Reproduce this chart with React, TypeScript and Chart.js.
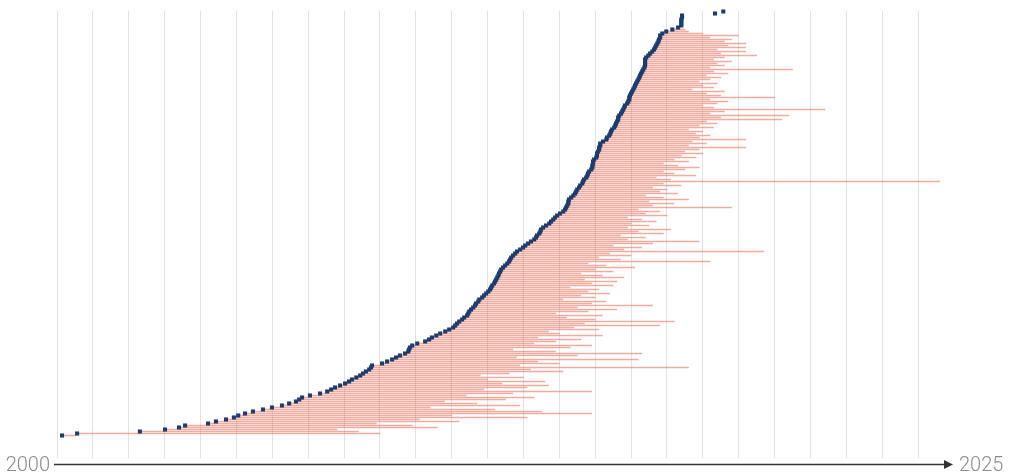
import React, { useEffect, useRef } from "react";
import { Chart, registerables } from "chart.js";

Chart.register(...registerables);

// Start year of each item (row 0 = bottom)
const startYears: number[] = [
  2000.14, 2000.56, 2002.31, 2003.01, 2003.40, 2003.57, 2004.21, 2004.43, 2004.71, 2004.93,
  2005.05, 2005.24, 2005.46, 2005.74, 2005.99, 2006.27, 2006.47, 2006.66, 2006.75, 2006.83,
  2007.05, 2007.33, 2007.53, 2007.64, 2007.75, 2007.89, 2008.03, 2008.14, 2008.22, 2008.34,
  2008.45, 2008.53, 2008.61, 2008.70, 2008.75, 2008.78, 2009.06, 2009.20, 2009.34, 2009.45,
  2009.56, 2009.70, 2009.79, 2009.81, 2009.84, 2009.90, 2010.04, 2010.26, 2010.37, 2010.45,
  2010.57, 2010.68, 2010.82, 2010.93, 2011.04, 2011.10, 2011.15, 2011.21, 2011.29, 2011.35,
  2011.43, 2011.46, 2011.49, 2011.54, 2011.60, 2011.65, 2011.68, 2011.74, 2011.77, 2011.85,
  2011.90, 2011.96, 2012.02, 2012.07, 2012.10, 2012.13, 2012.18, 2012.21, 2012.24, 2012.27,
  2012.30, 2012.32, 2012.35, 2012.38, 2012.43, 2012.49, 2012.55, 2012.60, 2012.63, 2012.66,
  2012.71, 2012.77, 2012.82, 2012.91, 2012.99, 2013.05, 2013.13, 2013.21, 2013.30, 2013.35,
  2013.38, 2013.44, 2013.47, 2013.49, 2013.55, 2013.63, 2013.72, 2013.77, 2013.83, 2013.88,
  2013.94, 2014.02, 2014.11, 2014.16, 2014.19, 2014.22, 2014.25, 2014.25, 2014.27, 2014.33,
  2014.39, 2014.44, 2014.47, 2014.50, 2014.55, 2014.58, 2014.64, 2014.66, 2014.69, 2014.75,
  2014.78, 2014.80, 2014.83, 2014.89, 2014.92, 2014.92, 2014.94, 2014.94, 2014.97, 2015.03,
  2015.05, 2015.05, 2015.08, 2015.11, 2015.11, 2015.14, 2015.14, 2015.22, 2015.31, 2015.33,
  2015.39, 2015.42, 2015.44, 2015.47, 2015.53, 2015.56, 2015.58, 2015.61, 2015.64, 2015.64,
  2015.67, 2015.72, 2015.75, 2015.78, 2015.81, 2015.83, 2015.89, 2015.92, 2015.95, 2015.95,
  2015.97, 2016.00, 2016.03, 2016.06, 2016.09, 2016.11, 2016.14, 2016.17, 2016.20, 2016.23,
  2016.25, 2016.28, 2016.31, 2016.34, 2016.37, 2016.39, 2016.39, 2016.39, 2016.39, 2016.42,
  2016.48, 2016.53, 2016.59, 2016.64, 2016.67, 2016.70, 2016.73, 2016.76, 2016.78, 2016.81,
  2016.81, 2016.87, 2016.98, 2017.15, 2017.31, 2017.40, 2017.40, 2017.40, 2017.40, 2017.42,
  2017.42, 2018.34, 2018.57,
];

// End year of each item
const endYears: number[] = [
  2000.50, 2009.00, 2008.40, 2007.80, 2010.60, 2009.90, 2008.90, 2011.20, 2010.10, 2013.10,
  2011.00, 2014.90, 2013.50, 2012.20, 2010.40, 2012.90, 2011.70, 2010.80, 2012.50, 2013.30,
  2011.40, 2012.70, 2014.90, 2011.90, 2013.10, 2013.70, 2012.40, 2013.60, 2012.00, 2013.00,
  2011.80, 2012.60, 2014.10, 2013.20, 2017.60, 2012.90, 2014.00, 2013.40, 2016.20, 2012.80,
  2014.50, 2016.30, 2013.90, 2012.70, 2014.30, 2014.90, 2013.30, 2013.90, 2014.60, 2013.40,
  2015.20, 2014.00, 2013.70, 2015.10, 2014.40, 2016.80, 2014.70, 2017.20, 2015.00, 2014.20,
  2015.20, 2013.90, 2014.80, 2015.60, 2014.50, 2016.60, 2014.90, 2015.30, 2014.10, 2015.00,
  2014.60, 2015.40, 2014.80, 2015.10, 2014.30, 2015.50, 2014.90, 2015.60, 2014.70, 2015.80,
  2015.20, 2014.60, 2015.50, 2015.00, 2016.10, 2015.30, 2014.80, 2018.20, 2015.70, 2015.10,
  2016.00, 2015.40, 2019.70, 2015.80, 2016.30, 2015.50, 2016.60, 2017.90, 2015.90, 2016.40,
  2015.70, 2016.90, 2016.20, 2017.10, 2015.90, 2016.50, 2016.00, 2016.70, 2016.30, 2015.90,
  2017.00, 2016.40, 2016.80, 2016.20, 2018.80, 2016.60, 2017.20, 2016.50, 2017.60, 2016.90,
  2016.40, 2017.30, 2016.80, 2017.00, 2016.60, 2017.40, 2016.90, 2024.60, 2017.10, 2016.70,
  2017.80, 2017.20, 2016.90, 2017.50, 2017.90, 2017.30, 2016.90, 2017.60, 2017.20, 2017.80,
  2017.40, 2018.00, 2017.50, 2017.90, 2019.20, 2017.60, 2018.10, 2017.70, 2019.20, 2017.90,
  2018.20, 2017.80, 2018.00, 2017.60, 2018.30, 2017.90, 2018.40, 2018.10, 2020.20, 2018.50,
  2020.40, 2018.20, 2018.60, 2021.40, 2018.30, 2018.00, 2018.40, 2018.70, 2018.20, 2020.00,
  2018.50, 2018.10, 2018.60, 2017.70, 2018.30, 2018.00, 2018.40, 2017.90, 2018.20, 2018.50,
  2018.10, 2018.70, 2018.30, 2020.50, 2018.20, 2018.60, 2018.40, 2018.80, 2018.30, 2018.60,
  2019.50, 2018.50, 2019.20, 2018.40, 2019.20, 2018.70, 2019.20, 2018.60, 2018.80, 2018.20,
  2019.00, 2018.00, 2017.60, 2017.50, 2017.31, 2017.40, 2017.40, 2017.40, 2017.40, 2017.42,
  2017.42, 2018.34, 2018.57,
];

const AXIS_START = 2000;
const AXIS_END = 2025;
const axisLabels: string[] = ["2000", "2025"];

const DOT_COLOR = "#1c3d6e";
const LINE_COLOR = "rgba(225, 105, 85, 0.55)";
const GRID_COLOR = "#e2e2e2";

const timeAxisPlugin = {
  id: "timeAxis",
  afterDraw(chart: any) {
    const { ctx, chartArea } = chart;
    const x = chart.scales.x;
    const x0 = x.getPixelForValue(AXIS_START);
    const x1 = x.getPixelForValue(AXIS_END);
    const y = chartArea.bottom + 6.5;
    ctx.save();
    ctx.strokeStyle = "#333333";
    ctx.fillStyle = "#333333";
    ctx.lineWidth = 1.4;
    ctx.beginPath();
    ctx.moveTo(x0 - 3, y);
    ctx.lineTo(x1 - 8, y);
    ctx.stroke();
    ctx.beginPath();
    ctx.moveTo(x1 - 1, y);
    ctx.lineTo(x1 - 10, y - 4.5);
    ctx.lineTo(x1 - 10, y + 4.5);
    ctx.closePath();
    ctx.fill();
    ctx.fillStyle = "#8c8c8c";
    ctx.font = '300 20px Roboto, "Liberation Sans", Arial, sans-serif';
    ctx.textBaseline = "middle";
    ctx.textAlign = "right";
    ctx.fillText(axisLabels[0], x0 - 7, y + 1);
    ctx.textAlign = "left";
    ctx.fillText(axisLabels[1], x1 + 5, y + 1);
    ctx.restore();
  },
};

export default function App() {
  const canvasRef = useRef<HTMLCanvasElement | null>(null);

  useEffect(() => {
    if (!canvasRef.current) return;
    const rows = startYears.map((s, i) => ({ s, e: endYears[i], i }));
    const chart = new Chart(canvasRef.current, {
      type: "bar",
      data: {
        datasets: [
          {
            type: "scatter",
            data: rows.map((r) => ({ x: r.s, y: r.i })),
            pointStyle: "rect",
            pointRadius: 2.9,
            pointBackgroundColor: DOT_COLOR,
            pointBorderWidth: 0,
            pointHoverRadius: 2.9,
            clip: false,
            order: 0,
          } as any,
          {
            type: "bar",
            data: rows.map((r) => ({ x: [r.s, r.e], y: r.i })),
            backgroundColor: LINE_COLOR,
            borderWidth: 0,
            borderSkipped: false,
            barThickness: 1,
            clip: false,
            order: 1,
          } as any,
        ],
      },
      options: {
        indexAxis: "y",
        responsive: false,
        animation: false,
        events: [],
        layout: { padding: { left: 57, right: 56, top: 11, bottom: 15 } },
        plugins: { legend: { display: false }, tooltip: { enabled: false } },
        scales: {
          x: {
            type: "linear",
            min: AXIS_START,
            max: AXIS_END,
            offset: false,
            ticks: { display: false, stepSize: 1 },
            grid: {
              drawTicks: false,
              offset: false,
              color: (c: any) => (c.tick && c.tick.value === AXIS_END ? "rgba(0,0,0,0)" : GRID_COLOR),
              lineWidth: 1,
            },
            border: { display: false },
          },
          y: {
            type: "linear",
            display: false,
            offset: false,
            min: -11.25,
            max: 212.25,
          },
        },
      } as any,
      plugins: [timeAxisPlugin],
    });
    return () => chart.destroy();
  }, []);

  return (
    <div style={{ position: "fixed", left: 0, top: 0, width: 1010, height: 473, background: "#fff" }}>
      <canvas ref={canvasRef} width={1010} height={473} style={{ display: "block" }} />
    </div>
  );
}
